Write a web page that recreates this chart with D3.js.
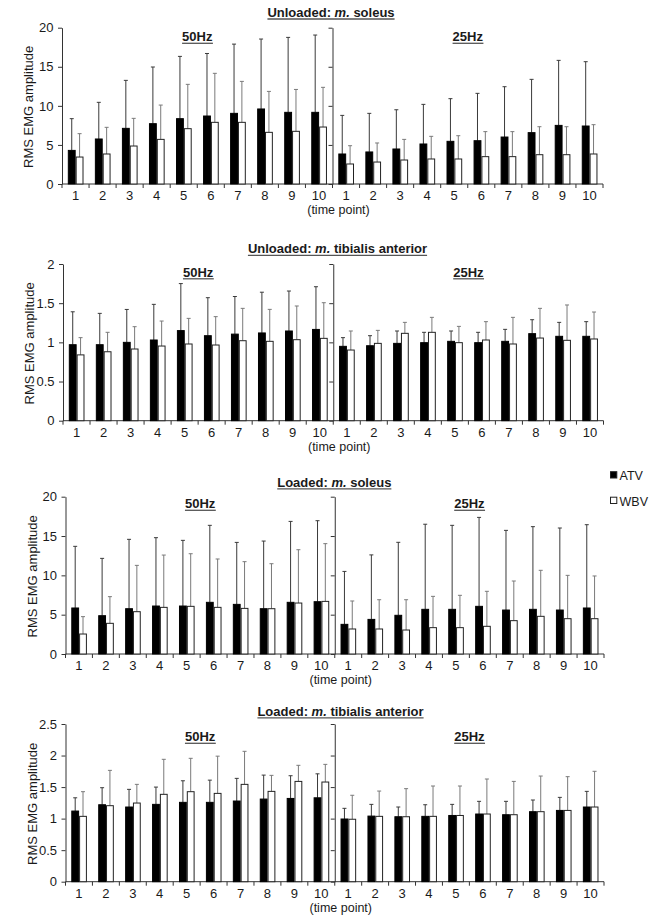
<!DOCTYPE html>
<html><head><meta charset="utf-8">
<script src="https://cdn.jsdelivr.net/npm/d3@7"></script>
<style>
body{margin:0;background:#fff}
svg{display:block}
text{font-family:"Liberation Sans",Arial,Helvetica,sans-serif;fill:#1a1a1a}
</style>
</head><body>
<script>
// ---------- data ----------
const timePoints = ["1","2","3","4","5","6","7","8","9","10"];
const frequencies = ["50Hz","25Hz"];
const seriesNames = ["ATV","WBV"];
const panelTitles = [
  ["Unloaded: ","m."," soleus"],
  ["Unloaded: ","m."," tibialis anterior"],
  ["Loaded: ","m."," soleus"],
  ["Loaded: ","m."," tibialis anterior"]
];
const yMaxes = [20, 2, 20, 2.5];
const yTickValues = [[0,5,10,15,20],[0,0.5,1,1.5,2],[0,5,10,15,20],[0,0.5,1,1.5,2,2.5]];
const xAxisTitle = "(time point)";
const yAxisTitle = "RMS EMG amplitude";

// each array: 10 values at 50Hz followed by 10 values at 25Hz
const unloadedSoleusATV   = [4.3,5.76,7.12,7.72,8.36,8.7,9.04,9.6,9.17,9.17, 3.84,4.1,4.48,5.12,5.46,5.54,6.01,6.57,7.5,7.42];
const unloadedSoleusATVsd = [4.06,4.69,6.14,7.25,7.97,8.0,8.86,8.95,9.59,9.89, 4.94,4.94,5.02,5.07,5.46,6.06,6.44,6.82,8.32,8.23];
const unloadedSoleusWBV   = [3.45,3.84,4.86,5.71,7.08,7.89,7.89,6.61,6.74,7.29, 2.56,2.81,3.07,3.2,3.2,3.5,3.5,3.75,3.75,3.84];
const unloadedSoleusWBVsd = [2.99,3.41,3.54,4.39,5.67,6.27,5.24,5.24,5.36,5.08, 2.34,2.44,2.64,2.9,2.98,3.2,3.2,3.58,3.58,3.75];

const unloadedTibialisATV   = [0.97,0.97,1.0,1.03,1.15,1.085,1.105,1.12,1.145,1.165, 0.949,0.957,0.987,0.996,1.013,0.996,1.013,1.111,1.077,1.077];
const unloadedTibialisATVsd = [0.42,0.40,0.42,0.455,0.60,0.485,0.48,0.52,0.51,0.545, 0.111,0.128,0.158,0.132,0.132,0.132,0.153,0.178,0.178,0.187];
const unloadedTibialisWBV   = [0.84,0.88,0.915,0.953,0.979,0.966,1.021,1.013,1.034,1.051, 0.902,0.987,1.115,1.128,0.996,1.03,0.979,1.055,1.026,1.043];
const unloadedTibialisWBVsd = [0.22,0.248,0.285,0.319,0.327,0.362,0.413,0.408,0.43,0.455, 0.243,0.166,0.14,0.191,0.208,0.234,0.34,0.379,0.451,0.344];

const loadedSoleusATV   = [5.85,4.87,5.76,6.1,6.1,6.57,6.31,5.76,6.57,6.65, 3.77,4.4,4.92,5.68,5.68,6.06,5.59,5.68,5.59,5.85];
const loadedSoleusATVsd = [7.84,7.29,8.82,8.69,8.35,9.79,7.88,8.6,10.29,10.3, 6.73,8.2,9.28,10.82,10.68,11.31,10.13,10.51,10.43,10.59];
const loadedSoleusWBV   = [2.54,3.9,5.38,5.93,6.06,5.93,5.8,5.76,6.48,6.69, 3.18,3.18,3.05,3.35,3.35,3.52,4.24,4.79,4.49,4.49];
const loadedSoleusWBVsd = [2.21,3.39,5.89,6.65,6.69,6.15,5.94,5.72,6.78,7.34, 3.56,3.72,3.85,3.98,4.11,4.45,5.04,5.85,5.51,5.43];

const loadedTibialisATV   = [1.12,1.22,1.184,1.226,1.258,1.258,1.279,1.31,1.32,1.33, 0.994,1.04,1.03,1.036,1.05,1.073,1.062,1.11,1.13,1.184];
const loadedTibialisATVsd = [0.21,0.27,0.28,0.274,0.342,0.352,0.359,0.38,0.36,0.38, 0.169,0.186,0.154,0.184,0.176,0.201,0.212,0.185,0.207,0.248];
const loadedTibialisWBV   = [1.036,1.205,1.247,1.385,1.427,1.4,1.543,1.432,1.59,1.58, 0.99,1.036,1.03,1.036,1.05,1.073,1.062,1.11,1.13,1.184];
const loadedTibialisWBVsd = [0.391,0.56,0.296,0.555,0.529,0.59,0.524,0.254,0.255,0.28, 0.38,0.401,0.445,0.481,0.467,0.555,0.528,0.565,0.535,0.566];

const panelSeries = [
  [unloadedSoleusATV, unloadedSoleusATVsd, unloadedSoleusWBV, unloadedSoleusWBVsd],
  [unloadedTibialisATV, unloadedTibialisATVsd, unloadedTibialisWBV, unloadedTibialisWBVsd],
  [loadedSoleusATV, loadedSoleusATVsd, loadedSoleusWBV, loadedSoleusWBVsd],
  [loadedTibialisATV, loadedTibialisATVsd, loadedTibialisWBV, loadedTibialisWBVsd]
];

// ---------- layout ----------
const W = 668, H = 919;
const layout = [
  {x0:62,  x1:603,   yTop:27.7,  yBot:184,   titleX:331,   titleY:16.7,  freqY:41,    tickY:199.5},
  {x0:63,  x1:603.5, yTop:264,   yBot:420.7, titleX:337.5, titleY:253,   freqY:276.5, tickY:436.5},
  {x0:65.5,x1:604,   yTop:496.7, yBot:654,   titleX:334.3, titleY:486.5, freqY:508,   tickY:669.5},
  {x0:65.5,x1:604,   yTop:724,   yBot:881.7, titleX:340.5, titleY:715.5, freqY:741,   tickY:897.5}
];
const axisColor = "#333";
const fontSize = 13;

const svg = d3.select("body").append("svg").attr("width", W).attr("height", H);
svg.append("rect").attr("width", W).attr("height", H).attr("fill", "#fff");

const cats = d3.range(20);

layout.forEach((L, pi) => {
  const g = svg.append("g");
  const [atv, atvSd, wbv, wbvSd] = panelSeries[pi];
  const x = d3.scaleBand().domain(cats).range([L.x0, L.x1]).padding(0);
  const step = x.step();
  const y = d3.scaleLinear().domain([0, yMaxes[pi]]).range([L.yBot, L.yTop]);
  const fmt = d3.format("~g");

  // y axis
  const ya = g.append("g").attr("transform", `translate(${L.x0},0)`)
    .call(d3.axisLeft(y).tickValues(yTickValues[pi]).tickSize(4).tickSizeOuter(0).tickFormat(fmt));
  ya.selectAll("path,line").attr("stroke", axisColor);
  ya.selectAll("text").attr("font-size", fontSize).attr("x", -8.5).style("font-family", "Liberation Sans, Arial, sans-serif").attr("fill", "#1a1a1a");

  // divider axis
  const xd = L.x0 + 10 * step;
  const da = g.append("g").attr("transform", `translate(${xd},0)`)
    .call(d3.axisLeft(y).tickValues(yTickValues[pi]).tickSize(4).tickSizeOuter(0).tickFormat(""));
  da.selectAll("path,line").attr("stroke", axisColor);

  // x axis baseline and ticks at band boundaries
  g.append("line").attr("x1", L.x0).attr("x2", L.x1).attr("y1", L.yBot).attr("y2", L.yBot).attr("stroke", axisColor);
  g.selectAll(".xt").data(d3.range(21)).join("line")
    .attr("x1", i => L.x0 + i * step).attr("x2", i => L.x0 + i * step)
    .attr("y1", L.yBot).attr("y2", L.yBot + 4).attr("stroke", axisColor);
  g.selectAll(".xl").data(cats).join("text")
    .attr("x", i => x(i) + step / 2).attr("y", L.tickY)
    .attr("text-anchor", "middle").attr("font-size", fontSize)
    .text(i => timePoints[i % 10]);
  g.append("text").attr("x", xd + 6).attr("y", L.tickY + 14.2).attr("text-anchor", "middle")
    .attr("font-size", 12.5).text(xAxisTitle);

  // y title
  g.append("text").attr("transform", `translate(${L.x0 - 29},${(L.yTop + L.yBot) / 2 + 1}) rotate(-90)`)
    .attr("text-anchor", "middle").attr("font-size", fontSize).text(yAxisTitle);

  // bars
  const bw = step * 0.29;
  const offA = step * 0.215, offW = offA + bw;
  const series = [
    {vals: atv, sd: atvSd, off: offA, fill: "#000", stroke: "#000", err: "#3a3a3a"},
    {vals: wbv, sd: wbvSd, off: offW, fill: "#fff", stroke: "#222", err: "#7a7a7a"}
  ];
  series.forEach(s => {
    g.selectAll(null).data(cats).join("line")
      .attr("x1", i => x(i) + s.off + bw / 2).attr("x2", i => x(i) + s.off + bw / 2)
      .attr("y1", i => y(s.vals[i])).attr("y2", i => y(s.vals[i] + s.sd[i]))
      .attr("stroke", s.err).attr("stroke-width", 1);
    g.selectAll(null).data(cats).join("line")
      .attr("x1", i => x(i) + s.off + bw / 2 - 2).attr("x2", i => x(i) + s.off + bw / 2 + 2)
      .attr("y1", i => y(s.vals[i] + s.sd[i])).attr("y2", i => y(s.vals[i] + s.sd[i]))
      .attr("stroke", s.err).attr("stroke-width", 1);
  });
  series.forEach(s => {
    g.selectAll(null).data(cats).join("rect")
      .attr("x", i => x(i) + s.off + 0.5).attr("width", bw - 1)
      .attr("y", i => y(s.vals[i])).attr("height", i => L.yBot - y(s.vals[i]))
      .attr("fill", s.fill).attr("stroke", s.stroke).attr("stroke-width", 1);
  });

  // underlined bold label helper
  function uText(cx, cy, parts, size) {
    const t = g.append("text").attr("x", cx).attr("y", cy).attr("text-anchor", "middle")
      .attr("font-size", size).attr("font-weight", "bold");
    parts.forEach(p => {
      const ts = t.append("tspan").text(p.text);
      if (p.italic) ts.attr("font-style", "italic");
    });
    const bb = t.node().getBBox();
    g.append("line").attr("x1", bb.x).attr("x2", bb.x + bb.width)
      .attr("y1", cy + 2.3).attr("y2", cy + 2.3).attr("stroke", "#555").attr("stroke-width", 1.3);
  }
  const pt = panelTitles[pi];
  uText(L.titleX, L.titleY, [{text: pt[0]}, {text: pt[1], italic: true}, {text: pt[2]}], fontSize);
  uText((L.x0 + xd) / 2, L.freqY, [{text: frequencies[0]}], fontSize);
  uText((xd + L.x1) / 2, L.freqY, [{text: frequencies[1]}], fontSize);
});

// legend
const lg = svg.append("g");
const legendY = [475, 500.5];
seriesNames.forEach((n, i) => {
  lg.append("rect").attr("x", 610.5).attr("y", legendY[i] - 3.3).attr("width", 6.3).attr("height", 6.3)
    .attr("fill", i === 0 ? "#000" : "#fff").attr("stroke", "#222").attr("stroke-width", 1);
  lg.append("text").attr("x", 619.5).attr("y", legendY[i] + 5).attr("font-size", 12.5).text(n);
});
</script>
</body></html>
